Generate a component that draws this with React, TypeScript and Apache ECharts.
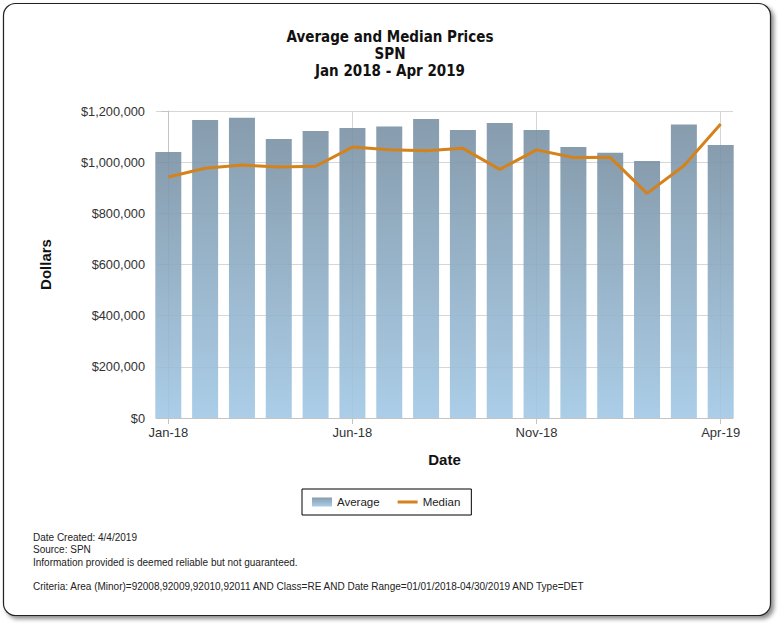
import React, { useEffect, useRef } from "react";
import * as echarts from "echarts";

const months = [
  "Jan-18", "Feb-18", "Mar-18", "Apr-18", "May-18", "Jun-18", "Jul-18", "Aug-18",
  "Sep-18", "Oct-18", "Nov-18", "Dec-18", "Jan-19", "Feb-19", "Mar-19", "Apr-19",
];
const averagePrices = [
  1040000, 1165000, 1174000, 1091000, 1122000, 1134000, 1139000, 1169000,
  1126000, 1153000, 1126000, 1059000, 1037000, 1005000, 1147000, 1067000,
];
const medianPrices = [
  942000, 976000, 989000, 981000, 984000, 1059000, 1049000, 1045000,
  1054000, 972000, 1048000, 1018000, 1019000, 878000, 986000, 1149000,
];
const titleLines = ["Average and Median Prices", "SPN", "Jan 2018 - Apr 2019"];
const footerLines = [
  "Date Created: 4/4/2019",
  "Source: SPN",
  "Information provided is deemed reliable but not guaranteed.",
];
const criteriaLine =
  "Criteria: Area (Minor)=92008,92009,92010,92011 AND Class=RE AND Date Range=01/01/2018-04/30/2019 AND Type=DET";

const SANS = "'Liberation Sans', Arial, sans-serif";

export default function App() {
  const ref = useRef<HTMLDivElement>(null);
  useEffect(() => {
    if (!ref.current) return;
    const chart = echarts.init(ref.current, undefined, { renderer: "svg" });
    const fmtMoney = (v: number) => "$" + v.toLocaleString("en-US");
    chart.setOption({
      animation: false,
      backgroundColor: "#ffffff",
      title: {
        text: titleLines.join("\n"),
        left: "center",
        top: 23,
        textStyle: {
          fontFamily: "'DejaVu Sans Condensed', 'Liberation Sans Narrow', sans-serif",
          fontSize: 15,
          fontWeight: "bold",
          color: "#111",
          lineHeight: 17,
        },
      },
      graphic: [
        {
          type: "rect",
          z: -10,
          shape: { x: 3.5, y: 3.5, width: 767, height: 612, r: 12 },
          style: {
            fill: "#ffffff",
            stroke: "#222",
            lineWidth: 1.2,
            shadowBlur: 4,
            shadowOffsetX: 3,
            shadowOffsetY: 3,
            shadowColor: "rgba(0,0,0,0.45)",
          },
        },
        ...footerLines.map((t, i) => ({
          type: "text",
          left: 33,
          top: 532 + i * 12.5,
          style: { text: t, fontSize: 10, fontFamily: SANS, fill: "#222" },
        })),
        {
          type: "text",
          left: 33,
          top: 581,
          style: { text: criteriaLine, fontSize: 10, fontFamily: SANS, fill: "#222" },
        },
      ],
      legend: {
        bottom: 625 - 515,
        left: 302,
        orient: "horizontal",
        borderColor: "#000",
        borderWidth: 1,
        borderRadius: 0,
        padding: [7, 11, 7, 10],
        itemGap: 18,
        itemWidth: 20,
        itemHeight: 9,
        textStyle: { fontFamily: SANS, fontSize: 11.5, color: "#222" },
        data: [
          { name: "Average", icon: "rect" },
          { name: "Median", icon: "path://M0,0H20V3H0Z" },
        ],
      },
      grid: { left: 156, right: 47, top: 111, bottom: 207, containLabel: false },
      xAxis: {
        type: "value",
        min: -0.334,
        max: 15.334,
        splitNumber: 3,
        minInterval: 5,
        maxInterval: 5,
        name: "Date",
        nameLocation: "middle",
        nameGap: 34,
        nameTextStyle: { fontFamily: SANS, fontSize: 15, fontWeight: "bold", color: "#111" },
        axisLine: { show: true, lineStyle: { color: "#c4c4c4" } },
        axisTick: { show: true, length: 6, lineStyle: { color: "#c4c4c4" } },
        axisLabel: {
          margin: 8,
          fontFamily: SANS,
          fontSize: 13,
          color: "#333",
          showMinLabel: false,
          showMaxLabel: false,
          formatter: (v: number) => {
            const i = Math.round(v);
            return Math.abs(v - i) < 1e-6 && months[i] ? months[i] : "";
          },
        },
        splitLine: {
          show: true,
          showMinLine: false,
          showMaxLine: false,
          lineStyle: { color: "#d6d6d6" },
        },
      },
      yAxis: {
        type: "value",
        min: 0,
        max: 1200000,
        interval: 200000,
        name: "Dollars",
        nameLocation: "middle",
        nameGap: 103,
        nameRotate: 90,
        nameTextStyle: { fontFamily: SANS, fontSize: 15, fontWeight: "bold", color: "#111" },
        axisLine: { show: true, lineStyle: { color: "#c4c4c4" } },
        axisTick: { show: true, length: 7, lineStyle: { color: "#c4c4c4" } },
        axisLabel: {
          margin: 11,
          fontFamily: SANS,
          fontSize: 12.8,
          color: "#333",
          formatter: fmtMoney,
        },
        splitLine: { show: true, lineStyle: { color: "#d6d6d6" } },
      },
      series: [
        {
          name: "Average",
          type: "bar",
          barWidth: 26,
          clip: true,
          data: averagePrices.map((v, i) => [i, v]),
          itemStyle: {
            opacity: 0.9,
            color: new echarts.graphic.LinearGradient(0, 0, 0, 1, [
              { offset: 0, color: "#7a92a5" },
              { offset: 1, color: "#a2c8e5" },
            ]),
          },
        },
        {
          name: "Median",
          type: "line",
          symbol: "none",
          data: medianPrices.map((v, i) => [i, v]),
          lineStyle: { width: 3, color: "#d4821c" },
          itemStyle: { color: "#d4821c" },
          z: 3,
        },
      ],
    });
    return () => chart.dispose();
  }, []);
  return (
    <div
      ref={ref}
      style={{ position: "fixed", left: 0, top: 0, width: 780, height: 625 }}
    />
  );
}
